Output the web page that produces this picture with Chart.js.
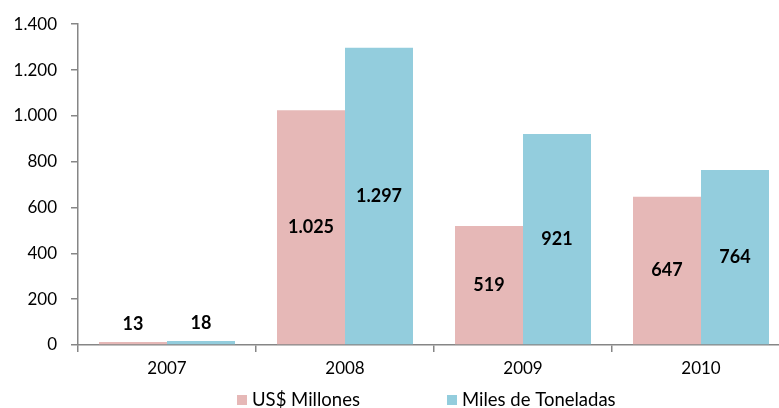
<!DOCTYPE html>
<html>
<head>
<meta charset="utf-8">
<script src="https://cdn.jsdelivr.net/npm/chart.js@4"></script>
<style>
  body { margin: 0; overflow: hidden; background: #fff; }
  #wrap { width: 868px; height: 408px; }
</style>
</head>
<body>
<div id="wrap"><canvas id="chart" width="868" height="408"></canvas></div>
<script>
const years = ["2007", "2008", "2009", "2010"];
const usdMillones = [13, 1025, 519, 647];
const milesToneladas = [18, 1297, 921, 764];
const seriesNames = ["US$ Millones", "Miles de Toneladas"];
const seriesColors = ["#E6B8B7", "#93CDDD"];
const yTicks = [0, 200, 400, 600, 800, 1000, 1200, 1400];

const FONT = "Lato, 'Open Sans', sans-serif";

function fmt(v) {
    // Spanish thousands separator
    return String(v).replace(/\B(?=(\d{3})+(?!\d))/g, ".");
}

const labelPlugin = {
    id: "valueLabels",
    afterDatasetsDraw: function(chart) {
        const ctx = chart.ctx;
        ctx.save();
        ctx.fillStyle = "#000";
        ctx.font = "bold 18px " + FONT;
        ctx.textAlign = "center";
        ctx.textBaseline = "middle";
        chart.data.datasets.forEach((dataset, i) => {
            const meta = chart.getDatasetMeta(i);
            meta.data.forEach((bar, index) => {
                const h = bar.base - bar.y;
                let y = (bar.y + bar.base) / 2;
                if (h < 30) y = bar.y - 18;
                ctx.fillText(fmt(dataset.data[index]), bar.x, y);
            });
        });
        ctx.restore();
    }
};

const legendPlugin = {
    id: "bottomLegend",
    afterDraw: function(chart) {
        const ctx = chart.ctx;
        const xs = [237, 447];
        const y = 400;
        ctx.save();
        ctx.font = "18.5px " + FONT;
        ctx.textBaseline = "middle";
        ctx.textAlign = "left";
        seriesNames.forEach((name, i) => {
            ctx.fillStyle = seriesColors[i];
            ctx.fillRect(xs[i], y - 5, 10, 10);
            ctx.fillStyle = "#000";
            ctx.fillText(name, xs[i] + 15, y);
        });
        ctx.restore();
    }
};

new Chart(document.getElementById("chart").getContext("2d"), {
    type: "bar",
    data: {
        labels: years,
        datasets: [
            { label: seriesNames[0], data: usdMillones, backgroundColor: seriesColors[0] },
            { label: seriesNames[1], data: milesToneladas, backgroundColor: seriesColors[1] }
        ]
    },
    options: {
        responsive: false,
        animation: false,
        layout: { padding: { top: 24, right: 78, bottom: 28, left: 0 } },
        datasets: { bar: { categoryPercentage: 0.764, barPercentage: 1.0 } },
        plugins: {
            legend: { display: false },
            tooltip: { enabled: false }
        },
        scales: {
            x: {
                grid: { display: true, drawOnChartArea: false, drawTicks: true, tickLength: 7, color: "#868686", lineWidth: 1.5, offset: true },
                border: { color: "#868686", width: 1.5 },
                ticks: { color: "#000", font: { family: FONT, size: 17 }, padding: 6 },
                afterFit: function(scale) { scale.height = 35; }
            },
            y: {
                min: 0,
                max: 1400,
                afterBuildTicks: function(scale) { scale.ticks = yTicks.map(v => ({ value: v })); },
                grid: { display: true, drawOnChartArea: false, drawTicks: true, tickLength: 7, color: "#868686", lineWidth: 1.5 },
                border: { color: "#868686", width: 1.5 },
                ticks: { color: "#000", font: { family: FONT, size: 17 }, padding: 14, callback: v => fmt(v) },
                afterFit: function(scale) { scale.width = 78; }
            }
        }
    },
    plugins: [labelPlugin, legendPlugin]
});
</script>
</body>
</html>
